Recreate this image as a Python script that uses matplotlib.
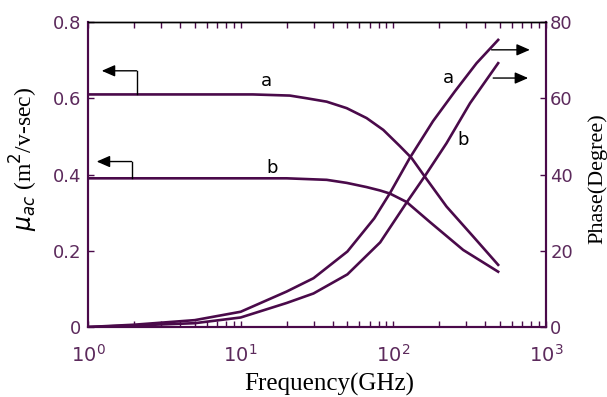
import matplotlib

matplotlib.use("Agg")
import matplotlib.pyplot as plt
from matplotlib.ticker import LogLocator, NullFormatter

# values
mob_a_freq = [1, 12, 21, 27, 36.6, 49.5, 66.8, 85.9, 110, 131.8, 161, 223, 334, 486]
mob_a_val = [0.61, 0.61, 0.607, 0.600, 0.591, 0.574, 0.548, 0.517, 0.475, 0.443, 0.394, 0.316, 0.237, 0.163]
mob_b_freq = [1, 20, 36.6, 49.5, 66.8, 82, 95, 122, 174, 287, 486]
mob_b_val = [0.39, 0.39, 0.386, 0.378, 0.367, 0.358, 0.350, 0.328, 0.275, 0.202, 0.145]

ph_a_freq = [1, 2, 5, 10, 20, 30, 50, 75, 95, 128, 182, 253, 351, 486]
ph_a_val = [0, 0.6, 1.8, 4.0, 9.3, 12.8, 19.8, 28.5, 35.1, 44.3, 54.0, 61.8, 69.2, 75.3]
ph_b_freq = [1, 2, 5, 10, 20, 30, 50, 82, 122, 161, 223, 318, 486]
ph_b_val = [0, 0.4, 1.0, 2.5, 6.3, 8.8, 13.8, 22.2, 32.6, 39.6, 48.2, 58.7, 69.2]

left_ticks = [0, 0.2, 0.4, 0.6, 0.8]
left_labels = ["0", "0.2", "0.4", "0.6", "0.8"]
right_ticks = [0, 20, 40, 60, 80]
x_ticks = [1, 10, 100, 1000]
x_labels = [r"$10^{0}$", r"$10^{1}$", r"$10^{2}$", r"$10^{3}$"]

PURPLE = "#4a0a4a"
LABEL_PURPLE = "#5c2a5c"

fig = plt.figure(figsize=(6.07, 3.97), dpi=100)
ax = fig.add_axes([0.145, 0.1763, 0.7545, 0.7683])
ax2 = ax.twinx()

ax.plot(mob_a_freq, mob_a_val, color=PURPLE, lw=1.9)
ax.plot(mob_b_freq, mob_b_val, color=PURPLE, lw=1.9)
ax2.plot(ph_a_freq, ph_a_val, color=PURPLE, lw=1.9)
ax2.plot(ph_b_freq, ph_b_val, color=PURPLE, lw=1.9)

ax.set_xscale("log")
ax.set_xlim(1, 1000)
ax.set_ylim(0, 0.8)
ax2.set_ylim(0, 80)

ax.set_xticks(x_ticks)
ax.set_xticklabels(x_labels)
ax.xaxis.set_minor_locator(LogLocator(base=10, subs=range(2, 10)))
ax.xaxis.set_minor_formatter(NullFormatter())
ax.set_yticks(left_ticks)
ax.set_yticklabels(left_labels)
ax2.set_yticks(right_ticks)

for lab in ax.get_yticklabels() + ax2.get_yticklabels():
    lab.set_fontfamily("DejaVu Sans")
    lab.set_fontsize(13)
for lab in ax.get_xticklabels():
    lab.set_fontfamily("DejaVu Sans")
    lab.set_fontsize(14)

ax.tick_params(axis="x", which="both", direction="in", top=True, bottom=True,
               length=4, width=1, color=PURPLE, labelcolor=LABEL_PURPLE, pad=12)
ax.tick_params(axis="y", direction="in", length=4, width=1, color=PURPLE,
               labelcolor=LABEL_PURPLE, pad=5)
ax2.tick_params(axis="y", direction="in", length=4, width=1, color=PURPLE,
                labelcolor=LABEL_PURPLE, pad=3)

for a in (ax, ax2):
    for side in ("left", "right", "bottom"):
        a.spines[side].set_color(PURPLE)
        a.spines[side].set_linewidth(1.5)
    a.spines["top"].set_color("black")
    a.spines["top"].set_linewidth(1)

# axis titles placed as figure text
fig.text(0.542, 0.016, "Frequency(GHz)", family="Liberation Serif", size=18,
         ha="center", va="baseline")
fig.text(0.054, 0.60, r"$\mu_{ac}$ (m$^2$/v-sec)", family="Liberation Serif", size=17,
         rotation=90, rotation_mode="anchor", ha="center", va="baseline")
fig.text(0.992, 0.55, "Phase(Degree)", family="Liberation Serif", size=16,
         rotation=90, rotation_mode="anchor", ha="center", va="baseline")

# curve labels
ax.text(14.8, 0.644, "a", ha="center", va="center", size=13)
ax.text(16, 0.417, "b", ha="center", va="center", size=13)
ax2.text(228, 65.4, "a", ha="center", va="center", size=13)
ax2.text(286, 49.1, "b", ha="center", va="center", size=13)

# axis pointer arrows
arrow = dict(arrowstyle="-|>,head_length=0.8,head_width=0.35", color="black", lw=1, shrinkA=0, shrinkB=0)
ax.plot([2.08, 2.08], [0.61, 0.672], color="black", lw=1)
ax.annotate("", xy=(1.23, 0.672), xytext=(2.08, 0.672), arrowprops=arrow)
ax.plot([1.93, 1.93], [0.39, 0.434], color="black", lw=1)
ax.annotate("", xy=(1.14, 0.434), xytext=(1.93, 0.434), arrowprops=arrow)
ax2.annotate("", xy=(784, 72.7), xytext=(440, 72.7), arrowprops=arrow, annotation_clip=False)
ax2.annotate("", xy=(764, 65.3), xytext=(451, 65.3), arrowprops=arrow, annotation_clip=False)

fig.savefig("out.png", dpi=100)
